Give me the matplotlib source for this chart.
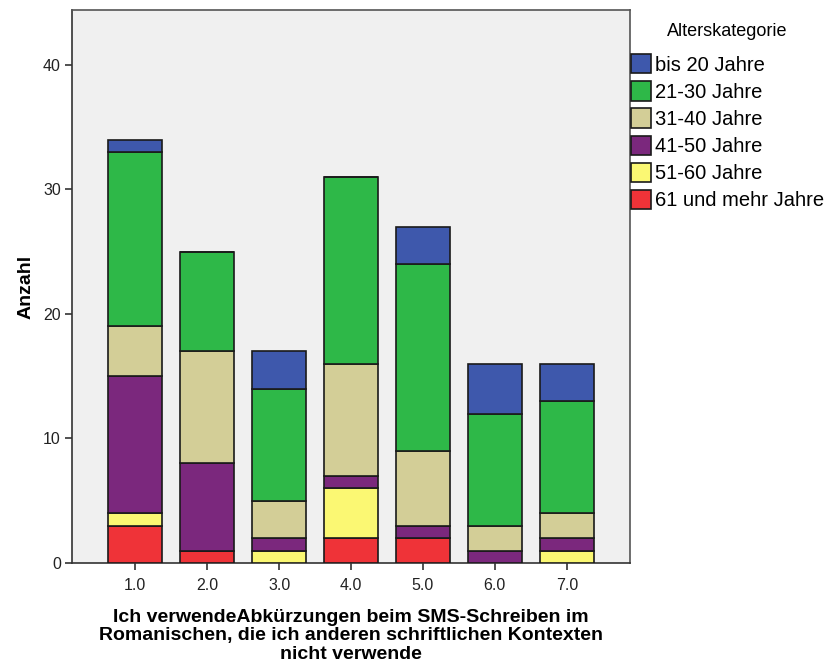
import numpy as np
import matplotlib.pyplot as plt
from matplotlib.patches import Patch

plt.rcParams['font.family'] = ['Liberation Sans', 'DejaVu Sans']

# categories (x) and age groups
kategorien = ['1.0', '2.0', '3.0', '4.0', '5.0', '6.0', '7.0']
gruppen = ['61 und mehr Jahre', '51-60 Jahre', '41-50 Jahre',
           '31-40 Jahre', '21-30 Jahre', 'bis 20 Jahre']
farben = ['#ef3338', '#fbf873', '#7b287d', '#d3ce97', '#2eb848', '#3e58ac']

# counts per group (bottom to top)
w61 = [3, 1, 0, 2, 2, 0, 0]
w51 = [1, 0, 1, 4, 0, 0, 1]
w41 = [11, 7, 1, 1, 1, 1, 1]
w31 = [4, 9, 3, 9, 6, 2, 2]
w21 = [14, 8, 9, 15, 15, 9, 9]
w20 = [1, 0, 3, 0, 3, 4, 3]
werte = [w61, w51, w41, w31, w21, w20]

fig = plt.figure(figsize=(8.29, 6.63), dpi=100)
ax = fig.add_axes([0.0869, 0.1508, 0.6731, 0.834])
ax.set_facecolor('#f0f0f0')

x = np.arange(1, len(kategorien) + 1)
unten = np.zeros(len(x))
for vals, col in zip(werte, farben):
    ax.bar(x, vals, width=0.75, bottom=unten, color=col,
           edgecolor='#1a1a1a', linewidth=1.2, zorder=3)
    unten += np.array(vals)

ax.set_xlim(0.12, 7.88)
ax.set_ylim(0, 44.4)
ax.set_yticks([0, 10, 20, 30, 40])
ax.set_xticks(x)
ax.set_xticklabels(kategorien)
ax.tick_params(axis='both', direction='out', length=5, width=1.2,
               color='#333333', labelsize=11.5, labelcolor='#222222', pad=3)
ax.tick_params(axis='x', pad=6)
for s in ax.spines.values():
    s.set_color('#555555')
    s.set_linewidth(1.2)
ax.spines['left'].set_color('#333333')
ax.spines['bottom'].set_color('#333333')

ax.set_ylabel('Anzahl', fontsize=14, fontweight='bold', labelpad=6)
ax.set_xlabel('Ich verwendeAbkürzungen beim SMS-Schreiben im\n'
              'Romanischen, die ich anderen schriftlichen Kontexten\n'
              'nicht verwende', fontsize=14, fontweight='bold',
              labelpad=11, linespacing=1.12)

# legend
handles = [Patch(facecolor=c, edgecolor='#1a1a1a', linewidth=1.2)
           for c in farben[::-1]]
leg = fig.legend(handles, gruppen[::-1], title='Alterskategorie',
                 loc='upper left', bbox_to_anchor=(0.761, 0.965),
                 frameon=False, fontsize=14.5, title_fontsize=13,
                 handlelength=1.0, handleheight=1.1, handletextpad=0.2,
                 labelspacing=0.33, borderaxespad=0, borderpad=0)
leg._legend_box.align = 'center'
leg._legend_box.sep = 10

fig.savefig('out.png', dpi=100)
